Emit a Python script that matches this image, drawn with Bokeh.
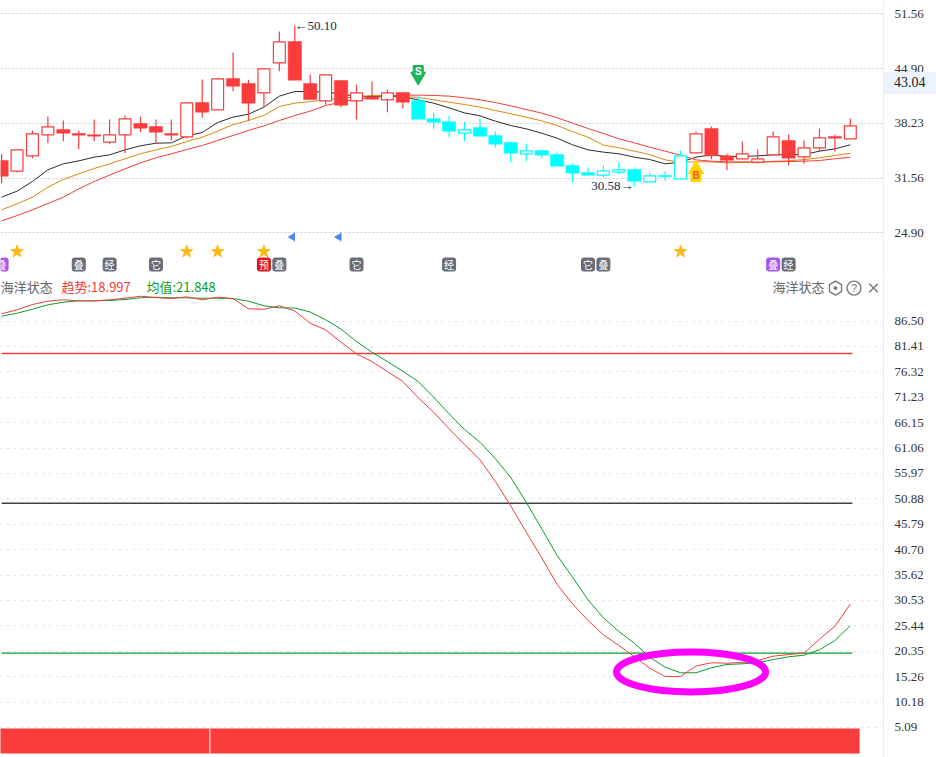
from bokeh.plotting import figure
from bokeh.layouts import column
from bokeh.models import FixedTicker, Range1d, LinearAxis, NumeralTickFormatter, Div
from bokeh.core.properties import value
from bokeh.embed import file_html
from bokeh.resources import INLINE
import math

# ---------- price panel ----------
price_ticks = [51.56, 44.90, 38.23, 31.56, 24.90]
high = [34.51,35.00,37.36,39.06,38.57,37.36,38.69,38.69,39.18,39.06,38.69,38.69,40.72,43.56,43.64,46.85,43.52,44.86,49.41,50.10,
        44.17,44.13,43.44,42.96,43.32,42.35,41.98,41.50,39.55,39.18,38.41,38.82,37.23,36.02,35.73,34.92,34.68,33.34,32.85,33.09,
        33.46,32.73,32.20,32.36,34.92,37.23,37.84,34.52,36.02,35.04,37.23,36.87,36.14,37.60,36.83,38.82]
low = [30.94,32.24,33.99,35.81,36.06,35.08,36.06,35.69,34.60,37.15,35.81,36.14,36.38,38.94,39.87,42.14,38.57,40.20,44.58,43.48,
       41.13,40.48,40.20,38.69,41.09,39.59,40.03,38.73,37.52,36.54,36.06,36.67,35.28,33.50,33.62,33.99,33.01,31.07,31.92,31.63,
       32.04,30.58,31.11,31.23,31.47,34.64,33.87,32.52,33.91,33.42,34.39,33.13,33.30,34.76,34.84,36.34]
body_top = [33.70,35.00,36.95,37.80,37.48,36.99,36.83,36.83,38.78,38.21,37.84,36.99,40.72,40.76,43.64,43.68,43.07,44.86,48.15,48.19,
            43.07,44.13,43.44,41.94,41.45,41.94,41.98,41.01,38.78,38.41,37.44,37.72,36.75,35.89,34.88,34.92,34.43,33.09,32.24,32.44,
            32.57,32.61,31.84,31.88,34.27,36.95,37.60,34.27,34.52,33.91,36.58,36.14,35.25,36.46,36.62,37.92]
body_bottom = [31.79,32.40,34.27,36.83,37.03,36.79,36.67,35.93,36.83,37.64,37.15,36.79,36.58,39.59,39.87,42.75,40.68,41.94,45.59,43.48,
               41.13,40.97,40.44,40.97,41.17,41.09,40.80,38.73,38.37,37.27,37.03,36.67,35.69,34.60,34.52,34.35,33.01,32.16,31.92,31.92,
               32.28,31.19,31.11,31.72,31.47,34.64,34.27,33.74,33.91,33.50,34.39,33.99,34.15,35.25,36.42,36.34]
solid = [1,0,0,0,1,1,1,0,0,1,1,1,0,1,0,1,1,0,0,1,1,0,1,0,1,0,1,1,1,1,0,1,1,1,0,1,1,1,1,0,0,1,0,1,0,0,1,1,0,0,0,1,0,0,1,0]
cyan_phase = list(range(27, 45))
ma_black = [29.24,29.97,31.15,32.57,33.30,33.66,34.11,34.39,35.00,35.49,35.81,35.85,36.71,37.11,38.33,38.98,39.34,40.20,41.54,42.10,
            42.10,42.02,41.82,41.50,41.50,41.54,41.45,41.09,40.68,40.11,39.50,39.14,38.49,37.96,37.56,37.03,36.42,35.61,35.00,34.72,
            34.52,34.11,33.82,33.30,33.50,34.11,34.39,34.19,34.19,34.27,34.39,34.43,34.43,34.84,35.12,35.61]
ma_orange = [27.70,28.43,29.24,30.46,31.39,32.08,32.73,33.30,33.91,34.52,35.00,35.41,36.02,36.54,37.27,38.08,38.57,39.18,40.28,40.68,
             40.88,41.05,41.29,41.45,41.62,41.62,41.54,41.37,41.09,40.80,40.52,40.20,39.79,39.39,38.98,38.53,37.96,37.23,36.54,35.57,
             35.25,34.84,34.43,33.78,33.50,33.54,33.54,33.42,33.46,33.42,33.62,33.66,33.82,34.03,34.31,34.60]
ma_red = [26.35,27.00,27.70,28.47,29.24,30.25,31.15,31.92,32.69,33.42,34.03,34.52,35.04,35.53,36.14,36.75,37.36,37.92,38.57,39.18,
          39.71,40.40,40.80,41.17,41.37,41.54,41.66,41.66,41.62,41.54,41.33,41.09,40.76,40.35,39.91,39.47,38.90,38.25,37.60,36.99,
          36.34,35.85,35.32,34.84,34.35,33.78,33.62,33.54,33.54,33.54,33.54,33.58,33.62,33.70,33.91,34.11]
star_idx = [1, 12, 14, 17, 44]
flag_idx = [18.85, 21.85]
chip_idx = [0, 5, 7, 10, 17, 18, 23, 29, 38, 39, 50, 51]
chip_txt = ["叠", "叠", "经", "它", "预", "叠", "它", "经", "它", "叠", "叠", "经"]
chip_col = ["#a855f7", "#686c78", "#686c78", "#686c78", "#e00f1c", "#686c78", "#686c78", "#686c78", "#686c78", "#686c78", "#a855f7", "#686c78"]
last_price = 43.04

# ---------- oscillator panel ----------
osc_ticks = [86.50,81.41,76.32,71.23,66.15,61.06,55.97,50.88,45.79,40.70,35.62,30.53,25.44,20.35,15.26,10.18,5.09]
trend = [87.95,88.75,89.81,90.47,90.75,90.55,90.55,90.75,91.07,91.47,91.21,91.01,91.35,90.75,91.27,91.01,88.95,88.87,89.55,88.51,
         86.06,84.74,82.26,79.93,78.39,76.39,74.39,71.12,68.24,64.91,61.77,58.70,54.36,49.45,44.20,39.08,33.73,29.86,26.52,23.66,
         21.51,19.31,16.97,15.30,15.30,17.41,18.05,17.97,18.11,18.51,19.37,19.71,19.97,22.77,25.38,29.80]
mean = [87.47,88.07,88.87,89.75,90.27,90.55,90.55,90.61,90.81,91.15,91.27,91.15,91.15,91.07,91.07,91.01,90.47,89.55,89.15,89.11,
        88.31,86.74,84.86,82.40,80.26,78.39,76.45,74.39,71.24,67.92,64.77,62.23,58.91,55.16,50.21,44.89,39.54,35.19,30.67,27.06,
        24.32,21.97,19.17,17.17,16.05,16.05,17.05,17.71,17.85,18.05,18.71,19.25,19.57,20.65,22.51,25.52]
levels = [80, 50, 20]
level_col = ["#f03c3c", "#444444", "#0a9e2c"]
band_start = [-0.5, 13.5]
band_end = [13.5, 55.6]

RED = "#fa3c3c"
CYAN = "#00ffff"
NUM_FONT = "Liberation Serif"
CJK = "Noto Sans CJK SC"
x = list(range(len(high)))
xr = Range1d(-0.071, 57.15)


def make(h, y0, y1, ticks, dash, grid_col):
    p = figure(frame_width=883, frame_height=h, y_axis_location="right", x_range=xr,
               y_range=Range1d(y0, y1), output_backend="svg", toolbar_location=None,
               min_border_left=0, min_border_top=0, min_border_bottom=0, min_border_right=53,
               outline_line_color=None, background_fill_color="white")
    p.xaxis.visible = False
    p.xgrid.visible = False
    yax = p.yaxis[0]
    yax.ticker = FixedTicker(ticks=ticks)
    yax.formatter = NumeralTickFormatter(format="0.00")
    yax.major_tick_line_color = None
    yax.minor_tick_line_color = None
    yax.axis_line_color = "#ececec"
    yax.major_label_standoff = 5
    yax.major_label_text_font = NUM_FONT
    yax.major_label_text_font_size = "13px"
    yax.major_label_text_color = "#333333"
    p.ygrid.grid_line_color = grid_col
    p.ygrid.grid_line_dash = dash
    p.ygrid.grid_line_width = 1
    return p


# ---- top ----
p1 = make(278, 19.34, 53.18, price_ticks, "2 2", "#cfcfcf")
sep = LinearAxis(ticker=FixedTicker(ticks=[]), axis_line_color="#e8e8e8", major_label_text_font_size="0px",
                 major_tick_line_color=None, minor_tick_line_color=None)
p1.add_layout(sep, "below")

p1.line(x, ma_black, line_color="#2b2b2b", line_width=1)
p1.line(x, ma_orange, line_color="#e0860f", line_width=1)
p1.line(x, ma_red, line_color="#f23c3c", line_width=1)

colors = [CYAN if i in cyan_phase else RED for i in x]
p1.segment(x, high, x, low, line_color=colors, line_width=1.2)
hx = [i for i in x if not solid[i]]
sx = [i for i in x if solid[i]]
p1.vbar(hx, top=[body_top[i] for i in hx], bottom=[body_bottom[i] for i in hx], width=0.77,
        fill_color="white", line_color=[colors[i] for i in hx], line_width=1.2)
p1.vbar(sx, top=[body_top[i] for i in sx], bottom=[body_bottom[i] for i in sx], width=0.86,
        fill_color=[colors[i] for i in sx], line_color=[colors[i] for i in sx], line_width=0.5)

p1.scatter(star_idx, [22.62] * len(star_idx), marker="star", size=13, fill_color="#fdb813", line_color="#fdb813")
p1.scatter(flag_idx, [24.39] * len(flag_idx), marker="triangle", size=7, angle=math.pi / 2,
           fill_color="#4d86f0", line_color="#4d86f0")
p1.segment([i + 0.13 for i in flag_idx], [24.95] * 2, [i + 0.13 for i in flag_idx], [23.85] * 2, line_color="#4d86f0")

p1.vbar(chip_idx, top=[21.83] * len(chip_idx), bottom=[20.25] * len(chip_idx), width=0.84,
        fill_color=chip_col, line_color=chip_col, border_radius=2)
p1.text(chip_idx, [21.04] * len(chip_idx), text=chip_txt, text_color="white", text_font=value(CJK),
        text_font_size="10px", text_align="center", text_baseline="middle")

# S sell arrow
p1.scatter([27], [44.66], marker="square", size=10, fill_color="#1bb45c", line_color="#1bb45c")
p1.scatter([27], [43.93], marker="inverted_triangle", size=15, fill_color="#1bb45c", line_color="#1bb45c")
p1.text([27], [44.55], text=["S"], text_color="white", text_font=value("Liberation Sans"), text_font_style="bold",
        text_font_size="10px", text_align="center", text_baseline="middle")
# B buy arrow
p1.scatter([45], [32.65], marker="triangle", size=15, fill_color="#ffd400", line_color="#ffd400")
p1.scatter([45], [31.75], marker="square", size=10, fill_color="#ffd400", line_color="#ffd400")
p1.text([45], [31.9], text=["B"], text_color="#f0582a", text_font=value("Liberation Sans"), text_font_style="bold",
        text_font_size="10px", text_align="center", text_baseline="middle")

p1.text([18.98], [50.10], text=["←50.10"], text_color="#0e3050", text_font=value(NUM_FONT),
        text_font_size="13px", text_align="left", text_baseline="middle")
p1.text([40.95], [30.58], text=["30.58→"], text_color="#0e3050", text_font=value(NUM_FONT),
        text_font_size="13px", text_align="right", text_baseline="middle", y_offset=-1)

price_tag = Div(
    text=(f'<div style="position:absolute;left:884px;top:-685px;width:52px;height:22px;background:#edf3fc;'
          f'font:14px \'{NUM_FONT}\';color:#222;line-height:22px;padding-left:10px;box-sizing:border-box;'
          f'z-index:10">{last_price:.2f}</div>'),
    width=0, height=0, margin=0)

# ---- bottom ----
p2 = make(479, -0.92, 95.02, osc_ticks, "1 6", "#bfbfbf")
p2.quad(left=band_start, right=band_end, bottom=[-0.1] * 2, top=[4.89] * 2, fill_color=RED, line_color=None)
p2.segment([band_end[0]], [-0.1], [band_end[0]], [4.89], line_color="white", line_width=1)
p2.segment([0] * 3, levels, [55.13] * 3, levels, line_color=level_col, line_width=1.3)
p2.line(x, mean, line_color="#0a9e2c", line_width=1)
p2.line(x, trend, line_color="#f03c3c", line_width=1)
p2.ellipse([44.68], [16.2], width=9.66, height=8.0, fill_color=None, line_color="#ff00ff", line_width=7)

text_v = 93.4
p2.text([-0.05], [text_v], text=["海洋状态"], text_color="#666666", text_font=value(CJK), text_font_size="13px",
        text_align="left", text_baseline="middle")
p2.text([3.88], [text_v], text=["趋势:18.997"], text_color="#f03c3c", text_font=value(CJK), text_font_size="13px",
        text_align="left", text_baseline="middle")
p2.text([9.39], [text_v], text=["均值:21.848"], text_color="#0a9e2c", text_font=value(CJK), text_font_size="13px",
        text_align="left", text_baseline="middle")
p2.text([49.96], [text_v], text=["海洋状态"], text_color="#666666", text_font=value(CJK), text_font_size="13px",
        text_align="left", text_baseline="middle")
p2.scatter([54.04], [93.1], marker="hex", size=14, angle=math.pi / 6, fill_color=None, line_color="#777777", line_width=1.4)
p2.scatter([54.04], [93.1], marker="circle", size=3, fill_color="#777777", line_color="#777777")
p2.scatter([55.24], [93.1], marker="circle", size=14, fill_color=None, line_color="#777777", line_width=1.4)
p2.text([55.24], [93.1], text=["?"], text_color="#777777", text_font=value("Liberation Sans"), text_font_size="11px",
        text_align="center", text_baseline="middle")
p2.scatter([56.5], [93.1], marker="x", size=12, line_color="#777777", line_width=1.4)

page = column(p1, p2, price_tag, spacing=0)
open("out.html", "w").write(file_html(page, INLINE))
